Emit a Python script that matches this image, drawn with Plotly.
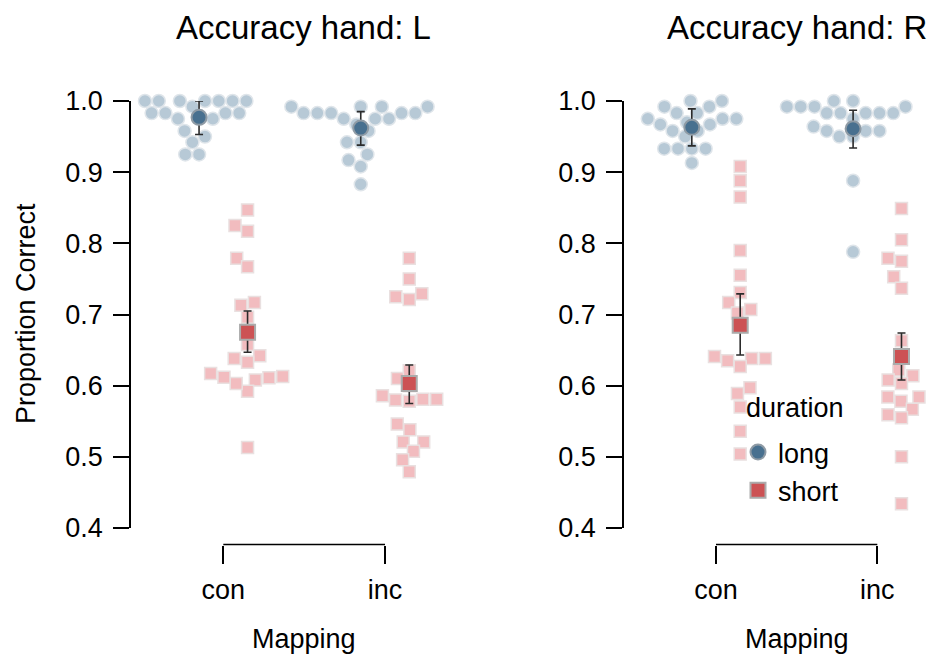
import numpy as np
import plotly.graph_objects as go

# ---- data -------------------------------------------------------------
mappings = ["con", "inc"]
durations = ["long", "short"]
hands = ["L", "R"]

# per-participant proportion correct, hand L
acc_L_con_long = [1.0, 1.0, 1.0, 1.0, 1.0, 1.0, 1.0, 0.992, 0.983, 0.983,
                  0.983, 0.983, 0.975, 0.975, 0.975, 0.958, 0.950, 0.942, 0.925, 0.925]
acc_L_inc_long = [0.992, 0.983, 0.983, 0.983, 0.975, 0.975, 0.992, 0.992, 0.967, 0.975,
                  0.983, 0.983, 0.992, 0.942, 0.942, 0.925, 0.917, 0.908, 0.883, 0.958]
acc_L_con_short = [0.847, 0.817, 0.825, 0.779, 0.767, 0.717, 0.713, 0.696, 0.658, 0.642,
                   0.633, 0.638, 0.613, 0.611, 0.608, 0.592, 0.603, 0.612, 0.617, 0.513]
acc_L_inc_short = [0.779, 0.750, 0.729, 0.721, 0.725, 0.621, 0.610, 0.581, 0.581, 0.578,
                   0.580, 0.586, 0.546, 0.538, 0.521, 0.521, 0.508, 0.496, 0.479, 0.600]

# per-participant proportion correct, hand R
acc_R_con_long = [0.975, 0.992, 0.992, 1.0, 1.0, 0.983, 0.967, 0.958, 0.958, 0.970,
                  0.975, 0.975, 0.950, 0.933, 0.933, 0.933, 0.933, 0.913, 0.983, 0.967]
acc_R_inc_long = [0.992, 0.992, 0.983, 0.983, 1.0, 1.0, 0.983, 0.983, 0.992, 0.992,
                  0.964, 0.958, 0.950, 0.950, 0.958, 0.958, 0.888, 0.788, 0.983, 0.975]
acc_R_con_short = [0.908, 0.888, 0.865, 0.790, 0.755, 0.731, 0.717, 0.707, 0.702, 0.638,
                   0.638, 0.627, 0.635, 0.641, 0.597, 0.589, 0.570, 0.536, 0.504, 0.683]
acc_R_inc_short = [0.849, 0.805, 0.775, 0.779, 0.753, 0.737, 0.663, 0.622, 0.614, 0.603,
                   0.608, 0.584, 0.578, 0.584, 0.567, 0.555, 0.559, 0.500, 0.434, 0.641]

# condition means with interval bounds (con, inc)
mean_L_long = [0.977, 0.962]
lo_L_long = [0.953, 0.938]
hi_L_long = [1.000, 0.985]
mean_L_short = [0.675, 0.603]
lo_L_short = [0.647, 0.575]
hi_L_short = [0.705, 0.629]
mean_R_long = [0.963, 0.961]
lo_R_long = [0.937, 0.934]
hi_R_long = [0.989, 0.987]
mean_R_short = [0.685, 0.641]
lo_R_short = [0.643, 0.608]
hi_R_short = [0.729, 0.674]

y_ticks = [0.4, 0.5, 0.6, 0.7, 0.8, 0.9, 1.0]

raw = {
    ("L", "long"): [acc_L_con_long, acc_L_inc_long],
    ("L", "short"): [acc_L_con_short, acc_L_inc_short],
    ("R", "long"): [acc_R_con_long, acc_R_inc_long],
    ("R", "short"): [acc_R_con_short, acc_R_inc_short],
}
summary = {
    ("L", "long"): (mean_L_long, lo_L_long, hi_L_long),
    ("L", "short"): (mean_L_short, lo_L_short, hi_L_short),
    ("R", "long"): (mean_R_long, lo_R_long, hi_R_long),
    ("R", "short"): (mean_R_short, lo_R_short, hi_R_short),
}

# ---- geometry / style ---------------------------------------------------
W, H = 932, 658
FONT = "Liberation Sans, Arial, Helvetica, sans-serif"
Y_TOP, Y_BOT = 101, 528          # pixel rows of 1.0 and 0.4
X_AXIS_ROW = 544.5               # pixel row of the mapping bracket
PANEL_PX = {"L": (131, 476), "R": (624, 932)}
CENTER_PX = {"L": (223.3, 385.0), "R": (716.0, 877.3)}
DODGE = {"long": -0.15, "short": 0.15}
SWARM_DIAM = 13.8                # px spacing between swarm points
Y_PX_PER_UNIT = (Y_BOT - Y_TOP) / 0.6

style = {
    "long": dict(symbol="circle", size=13, color="#b7c9d6", line=dict(color="#dfe5ea", width=1.5)),
    "short": dict(symbol="square", size=12, color="#f2bcbf", line=dict(color="#e9e0e0", width=1.5)),
}
mean_style = {
    "long": dict(symbol="circle", size=15, color="#48708f", line=dict(color="#8f9ba5", width=2)),
    "short": dict(symbol="square", size=15, color="#cc5254", line=dict(color="#ababab", width=2)),
}


def swarm_offsets(values, diam, y_scale):
    """Beeswarm placement (ascending priority): offsets in px, closest to centre."""
    y = np.asarray(values, dtype=float) * y_scale
    xs = np.zeros(len(y))
    placed = []
    for i in np.argsort(y, kind="stable"):
        near = [j for j in placed if abs(y[j] - y[i]) < diam]
        cands = [0.0]
        for j in near:
            dx = np.sqrt(diam ** 2 - (y[j] - y[i]) ** 2)
            cands += [xs[j] - dx, xs[j] + dx]
        cands.sort(key=lambda c: (abs(c), c))
        for c in cands:
            if all((c - xs[j]) ** 2 + (y[j] - y[i]) ** 2 >= diam ** 2 - 1e-6 for j in near):
                xs[i] = c
                break
        placed.append(i)
    return xs


fig = go.Figure()
layout_axes = {}
shapes = []
annotations = []

for k, hand in enumerate(hands):
    xname = "x" if k == 0 else f"x{k + 1}"
    yname = "y" if k == 0 else f"y{k + 1}"
    p0, p1 = PANEL_PX[hand]
    c0, c1 = CENTER_PX[hand]
    ppu = c1 - c0
    xrange = [-(c0 - p0) / ppu, (p1 - c0) / ppu]

    for dur in durations:
        for m, vals in enumerate(raw[(hand, dur)]):
            offs = swarm_offsets(vals, SWARM_DIAM, Y_PX_PER_UNIT) / ppu
            fig.add_trace(go.Scatter(
                x=m + DODGE[dur] + offs, y=vals, mode="markers",
                marker=style[dur], xaxis=xname, yaxis=yname,
                showlegend=False, hoverinfo="y", cliponaxis=False,
            ))
    for dur in durations:
        mu, lo, hi = summary[(hand, dur)]
        fig.add_trace(go.Scatter(
            x=[m + DODGE[dur] for m in range(len(mappings))], y=mu,
            mode="markers", marker=mean_style[dur], name=dur,
            error_y=dict(type="data", symmetric=False,
                         array=[h - u for h, u in zip(hi, mu)],
                         arrayminus=[u - l for u, l in zip(mu, lo)],
                         color="#2b2b2b", thickness=1.6, width=4),
            xaxis=xname, yaxis=yname, showlegend=(k == 0),
            cliponaxis=False,
        ))

    ax_pos = 1 - X_AXIS_ROW / H
    layout_axes["xaxis" if k == 0 else f"xaxis{k + 1}"] = dict(
        domain=[p0 / W, p1 / W], range=xrange, anchor="free", position=ax_pos,
        tickvals=list(range(len(mappings))), ticktext=mappings,
        ticks="outside", ticklen=18, tickwidth=1.6, tickcolor="black",
        showline=False, showgrid=False, zeroline=False, automargin=False,
        ticklabelstandoff=3,
        tickfont=dict(size=27, color="black", family=FONT),
    )
    layout_axes["yaxis" if k == 0 else f"yaxis{k + 1}"] = dict(
        domain=[1 - Y_BOT / H, 1 - Y_TOP / H], range=[0.4, 1.0], anchor=xname,
        tickvals=y_ticks, tickformat=".1f",
        ticks="outside", ticklen=16, tickwidth=1.6, tickcolor="black",
        showline=True, linewidth=1.6, linecolor="black",
        showgrid=False, zeroline=False, automargin=False,
        ticklabelstandoff=5,
        tickfont=dict(size=27, color="black", family=FONT),
    )
    # range-frame bracket between the two mapping levels
    shapes.append(dict(type="line", xref=xname, yref="paper", x0=0, x1=len(mappings) - 1,
                       y0=ax_pos, y1=ax_pos, line=dict(color="black", width=1.6)))
    annotations.append(dict(text=f"Accuracy hand: {hand}", xref="paper", yref="paper",
                            x=(p0 + 172.5) / W, y=1 - 28 / H, showarrow=False,
                            xanchor="center", yanchor="middle",
                            font=dict(size=33, color="black", family=FONT)))
    annotations.append(dict(text="Mapping", xref="paper", yref="paper",
                            x=(c0 + c1) / 2 / W, y=1 - 639 / H, showarrow=False,
                            xanchor="center", yanchor="middle",
                            font=dict(size=27, color="black", family=FONT)))

annotations.append(dict(text="Proportion Correct", xref="paper", yref="paper",
                        x=26 / W, y=1 - 314 / H, showarrow=False, textangle=-90,
                        xanchor="center", yanchor="middle",
                        font=dict(size=27, color="black", family=FONT)))
# legend heading
annotations.append(dict(text="duration", xref="paper", yref="paper",
                        x=744 / W, y=1 - 408 / H, showarrow=False,
                        xanchor="left", yanchor="middle",
                        font=dict(size=27, color="black", family=FONT)))

fig.update_layout(
    template="none",
    width=W, height=H, margin=dict(l=0, r=0, t=0, b=0, pad=0, autoexpand=False),
    paper_bgcolor="white", plot_bgcolor="white",
    font=dict(family=FONT, color="black"),
    shapes=shapes, annotations=annotations,
    legend=dict(font=dict(size=27, color="black", family=FONT),
                x=738 / W, y=1 - 428 / H, xanchor="left", yanchor="top",
                bgcolor="rgba(0,0,0,0)", itemsizing="trace", tracegroupgap=0),
    **layout_axes,
)

fig.write_html("out.html")
